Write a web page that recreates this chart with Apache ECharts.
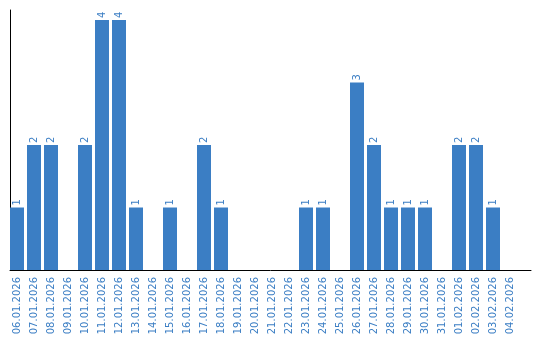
<!DOCTYPE html>
<html>
<head>
<meta charset="utf-8">
<script src="https://cdn.jsdelivr.net/npm/echarts@6/dist/echarts.min.js"></script>
<style>html,body{margin:0;padding:0;background:#fff}#c{width:540px;height:340px}</style>
</head>
<body>
<div id="c"></div>
<script>
const categories = ['06.01.2026','07.01.2026','08.01.2026','09.01.2026','10.01.2026','11.01.2026','12.01.2026','13.01.2026','14.01.2026','15.01.2026','16.01.2026','17.01.2026','18.01.2026','19.01.2026','20.01.2026','21.01.2026','22.01.2026','23.01.2026','24.01.2026','25.01.2026','26.01.2026','27.01.2026','28.01.2026','29.01.2026','30.01.2026','31.01.2026','01.02.2026','02.02.2026','03.02.2026','04.02.2026'];
const values = [1,2,2,0,2,4,4,1,0,1,0,2,1,0,0,0,0,1,1,0,3,2,1,1,1,0,2,2,1,0];
const yMax = 4.16;
const blue = '#3b7ec4';
const chart = echarts.init(document.getElementById('c'), null, {renderer:'canvas'});
chart.setOption({
  animation:false,
  grid:[
    {left:8.5, top:10, width:510, height:260},
    {left:10, top:10, right:9, height:260}
  ],
  xAxis:[
    {type:'category', gridIndex:0, data:categories,
     axisLine:{show:false}, axisTick:{show:false},
     axisLabel:{rotate:90, margin:7, color:blue, fontFamily:'DejaVu Sans', fontSize:10, interval:0}},
    {type:'value', gridIndex:1, min:0, max:1,
     axisLine:{show:true, onZero:false, lineStyle:{color:'#000', width:1}},
     axisTick:{show:false}, axisLabel:{show:false}, splitLine:{show:false}}
  ],
  yAxis:[
    {type:'value', gridIndex:0, min:0, max:yMax,
     axisLine:{show:false}, axisTick:{show:false}, axisLabel:{show:false}, splitLine:{show:false}},
    {type:'value', gridIndex:1, min:0, max:1,
     axisLine:{show:true, onZero:false, lineStyle:{color:'#000', width:1}},
     axisTick:{show:false}, axisLabel:{show:false}, splitLine:{show:false}}
  ],
  series:[{
    type:'bar', xAxisIndex:0, yAxisIndex:0, data:values, barWidth:14,
    itemStyle:{color:blue},
    label:{show:true, position:'top', rotate:90, align:'left', verticalAlign:'middle', distance:2,
      color:blue, fontFamily:'DejaVu Sans', fontSize:10,
      formatter:p=>p.value>0?String(p.value):''}
  }]
});
</script>
</body>
</html>
